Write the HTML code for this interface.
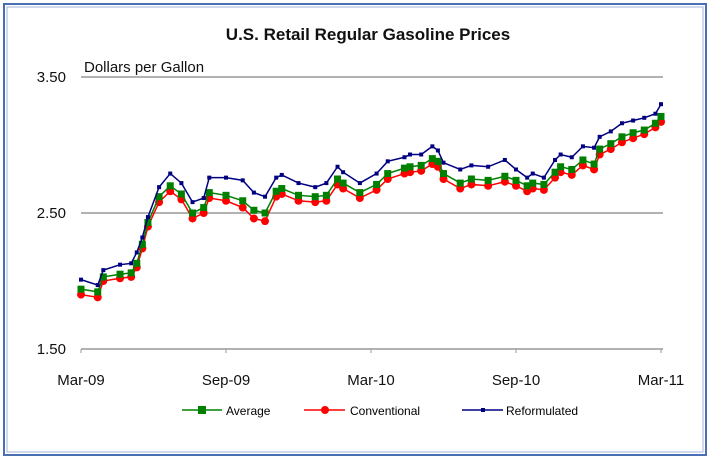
<!DOCTYPE html>
<html><head><meta charset="utf-8"><style>
body{margin:0;background:#fff;width:714px;height:468px;overflow:hidden}
svg{display:block;font-family:"Liberation Sans",Arial,sans-serif}
</style></head><body>
<svg id="chart" width="714" height="468">
<rect x="4" y="4" width="702" height="451" fill="#fff" stroke="#4a6fb5" stroke-width="2"/>
<rect x="7" y="7" width="696" height="445" fill="none" stroke="#a0b4d8" stroke-width="1"/>
<text x="368" y="40" text-anchor="middle" font-size="17" font-weight="bold" fill="#111">U.S. Retail Regular Gasoline Prices</text>
<text x="84" y="72" font-size="15" fill="#111">Dollars per Gallon</text>
<g id="grid"></g><g id="axes"></g><g id="series"></g>
<g>
<g><line x1="182" y1="410" x2="222" y2="410" stroke="#008000" stroke-width="1.5"/><rect x="198" y="406" width="8" height="8" fill="#008000"/><text x="226" y="415" font-size="12">Average</text></g>
<g><line x1="304" y1="410" x2="345" y2="410" stroke="#ff0000" stroke-width="1.5"/><circle cx="325" cy="410" r="4" fill="#ff0000"/><text x="350" y="415" font-size="12">Conventional</text></g>
<g><line x1="462" y1="410" x2="503" y2="410" stroke="#000080" stroke-width="1.5"/><rect x="481" y="408" width="4" height="4" fill="#000080"/><text x="506" y="415" font-size="12">Reformulated</text></g>
</g>
</svg>
<script>
const weeks=[0,3,4,7,9,10,11,12,14,16,18,20,22,23,26,29,31,33,35,36,39,42,44,46,47,50,53,55,58,59,61,63,64,65,68,70,73,76,78,80,81,83,85,86,88,90,92,93,95,97,99,101,103,104];
const reformulated=[2.01,1.97,2.08,2.12,2.13,2.21,2.32,2.47,2.69,2.79,2.72,2.58,2.61,2.76,2.76,2.74,2.65,2.62,2.76,2.78,2.72,2.69,2.72,2.84,2.80,2.72,2.79,2.88,2.91,2.93,2.93,2.99,2.96,2.87,2.82,2.85,2.84,2.89,2.82,2.76,2.79,2.76,2.89,2.93,2.91,2.99,2.98,3.06,3.10,3.16,3.18,3.20,3.23,3.30];
const average=[1.94,1.92,2.03,2.05,2.06,2.13,2.27,2.43,2.62,2.70,2.64,2.50,2.54,2.65,2.63,2.59,2.52,2.50,2.66,2.68,2.63,2.62,2.63,2.75,2.72,2.65,2.71,2.79,2.83,2.84,2.85,2.90,2.88,2.79,2.72,2.75,2.74,2.77,2.74,2.70,2.72,2.71,2.80,2.84,2.82,2.89,2.86,2.97,3.01,3.06,3.09,3.11,3.16,3.21];
const conventional=[1.90,1.88,2.00,2.02,2.03,2.10,2.24,2.40,2.58,2.66,2.60,2.46,2.50,2.61,2.59,2.54,2.46,2.44,2.62,2.64,2.59,2.58,2.59,2.71,2.68,2.61,2.67,2.75,2.79,2.80,2.81,2.86,2.84,2.75,2.68,2.71,2.70,2.73,2.70,2.66,2.68,2.67,2.76,2.80,2.78,2.85,2.82,2.93,2.97,3.02,3.05,3.08,3.13,3.17];
const yTicks=[1.5,2.5,3.5];
const yTickLabels=["1.50","2.50","3.50"];
const xTickWeeks=[0,26,52,78,104];
const xTickLabels=["Mar-09","Sep-09","Mar-10","Sep-10","Mar-11"];
const NS="http://www.w3.org/2000/svg";
const X=w=>81+w*(580/104);
const Y=v=>349-(v-1.5)*136;
function mk(tag,attrs,parent){const e=document.createElementNS(NS,tag);for(const k in attrs)e.setAttribute(k,attrs[k]);parent.appendChild(e);return e;}
const grid=document.getElementById('grid'),axes=document.getElementById('axes'),ser=document.getElementById('series');
yTicks.forEach((t,i)=>{
 const l=mk('line',{x1:81,x2:663,y1:Y(t),y2:Y(t),stroke:'#999','stroke-width':1.5},grid);
 
 
 const tx=mk('text',{x:66,y:Y(t)+5,'text-anchor':'end','font-size':15,fill:'#111'},axes);
 tx.textContent=yTickLabels[i];
 
 
});
xTickWeeks.forEach((w,i)=>{
 const tk=mk('line',{x1:X(w),x2:X(w),y1:Y(1.5),y2:Y(1.5)+4,stroke:'#999'},axes);
 
 
 const tx=mk('text',{x:X(w),y:385,'text-anchor':'middle','font-size':15,fill:'#111'},axes);
 tx.textContent=xTickLabels[i];
 
 
});
function drawSeries(vals,color,name,marker){
 const g=mk('g',{},ser);
 
 
 const p=mk('polyline',{points:weeks.map((w,i)=>X(w)+','+Y(vals[i])).join(' '),fill:'none',stroke:color,'stroke-width':1.5},g);
 
 
 weeks.forEach((w,i)=>{
  let m;
  if(marker==='sq') m=mk('rect',{x:X(w)-3.5,y:Y(vals[i])-3.5,width:7,height:7,fill:color},g);
  else if(marker==='c') m=mk('circle',{cx:X(w),cy:Y(vals[i]),r:4,fill:color},g);
  else m=mk('rect',{x:X(w)-2,y:Y(vals[i])-2,width:4,height:4,fill:color},g);
  
  
 });
}
drawSeries(conventional,'#ff0000','conventional','c');
drawSeries(average,'#008000','average','sq');
drawSeries(reformulated,'#000080','reformulated','s');
</script>
</body></html>
